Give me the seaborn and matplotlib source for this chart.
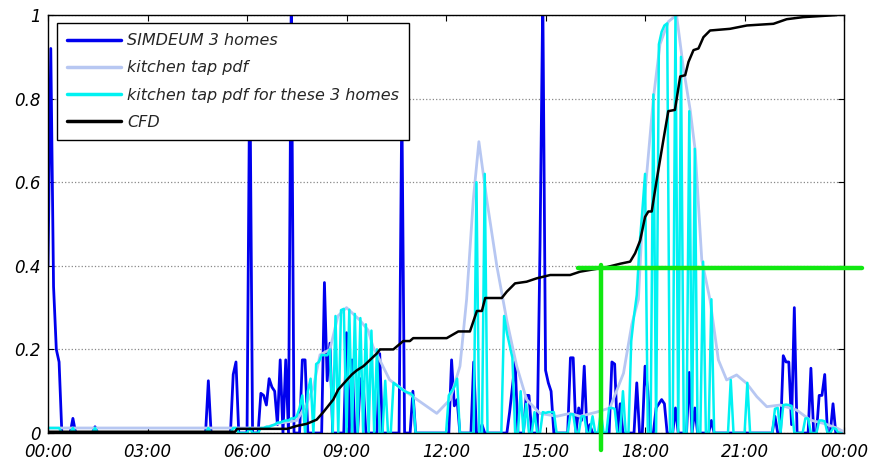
import numpy as np
import pandas as pd
import matplotlib
matplotlib.use("Agg")
import matplotlib.pyplot as plt
import seaborn as sns

# ---------------- data ----------------
# 5-minute grid (minutes after midnight); sparse non-zero readings
step_min = 5
day_minutes = 1440

simdeum_min = [0, 5, 10, 15, 20, 45, 85, 290, 335, 340, 365, 385, 390, 395, 400, 405, 410, 415,
               420, 430, 440, 460, 465, 500, 505, 510, 540, 550, 565, 570, 600, 640, 660,
               730, 735, 740, 770, 785, 835, 840, 845, 865, 870, 890, 895, 900, 905, 910,
               945, 950, 960, 965, 970, 980, 1020, 1025, 1035, 1065, 1080, 1085, 1100, 1105,
               1110, 1115, 1135, 1160, 1170, 1200, 1315, 1330, 1335, 1340, 1345, 1350, 1380,
               1395, 1400, 1405, 1420]
simdeum_val = [0.40, 0.92, 0.35, 0.20, 0.17, 0.035, 0.015, 0.125, 0.14, 0.17, 0.90, 0.095, 0.09,
               0.067, 0.13, 0.11, 0.10, 0.02, 0.175, 0.175, 1.05, 0.175, 0.175, 0.36, 0.125,
               0.215, 0.24, 0.175, 0.13, 0.12, 0.19, 0.80, 0.10, 0.175, 0.065, 0.08, 0.17,
               0.02, 0.05, 0.11, 0.17, 0.09, 0.09, 0.45, 1.05, 0.15, 0.12, 0.10, 0.18, 0.18,
               0.06, 0.03, 0.16, 0.02, 0.17, 0.165, 0.07, 0.12, 0.16, 0.10, 0.06, 0.07, 0.08,
               0.07, 0.06, 0.145, 0.06, 0.03, 0.04, 0.185, 0.17, 0.17, 0.02, 0.30, 0.155,
               0.09, 0.09, 0.14, 0.07]

homes_pdf_min = [0, 5, 10, 15, 20, 45, 85, 290, 335, 340, 365, 385, 390, 395, 400, 405, 410, 415,
                 420, 425, 430, 435, 440, 445, 450, 455, 460, 470, 475, 485, 490, 495, 500, 505,
                 510, 520, 530, 535, 545, 555, 565, 575, 585, 595, 610, 625, 630, 635, 640, 645,
                 650, 655, 660, 725, 730, 735, 740, 775, 790, 825, 830, 835, 840, 855, 865, 880,
                 895, 900, 905, 910, 915, 945, 950, 965, 970, 985, 1000, 1015, 1020, 1025, 1040,
                 1055, 1060, 1065, 1070, 1075, 1080, 1095, 1105, 1110, 1115, 1120, 1135, 1145,
                 1160, 1170, 1185, 1200, 1235, 1265, 1315, 1320, 1330, 1335, 1340, 1345, 1370,
                 1375, 1395, 1400, 1405, 1420, 1425]
homes_pdf_val = [0.012, 0.012, 0.012, 0.012, 0.012, 0.012, 0.012, 0.012, 0.012, 0.012, 0.012,
                 0.012, 0.012, 0.015, 0.015, 0.018, 0.02, 0.025, 0.025, 0.028, 0.03, 0.03, 0.035,
                 0.035, 0.04, 0.06, 0.09, 0.10, 0.13, 0.165, 0.17, 0.187, 0.186, 0.186, 0.20,
                 0.28, 0.294, 0.297, 0.295, 0.285, 0.275, 0.26, 0.245, 0.20, 0.125, 0.12, 0.115,
                 0.11, 0.105, 0.10, 0.097, 0.095, 0.09, 0.09, 0.10, 0.11, 0.13, 0.60, 0.62, 0.28,
                 0.24, 0.21, 0.18, 0.10, 0.07, 0.05, 0.05, 0.048, 0.05, 0.05, 0.05, 0.045, 0.045,
                 0.04, 0.04, 0.04, 0.05, 0.06, 0.06, 0.058, 0.10, 0.22, 0.28, 0.33, 0.45, 0.53,
                 0.62, 0.81, 0.93, 0.96, 0.975, 0.98, 1.0, 0.90, 0.77, 0.68, 0.41, 0.32, 0.127,
                 0.12, 0.058, 0.06, 0.067, 0.068, 0.067, 0.065, 0.035, 0.035, 0.03, 0.03, 0.028,
                 0.012, 0.01]

# kitchen tap pdf (smooth curve), hours / value
pdf_hour = [0, 6.5, 7.0, 7.5, 7.8, 8.0, 8.2, 8.5, 8.74, 9.0, 9.4, 9.65, 9.8, 10.0, 10.3, 10.6,
            11.0, 11.72, 12.12, 12.42, 12.62, 12.82, 12.99, 13.23, 13.53, 13.83, 14.13, 14.43,
            14.83, 15.34, 15.74, 16.04, 16.54, 16.94, 17.35, 17.6, 17.8, 17.9, 18.05, 18.25,
            18.45, 18.7, 18.95, 19.15, 19.36, 19.51, 19.71, 19.96, 20.21, 20.46, 20.76, 21.06,
            21.37, 21.67, 22.07, 22.57, 22.98, 23.38, 23.78, 23.95]
pdf_val = [0.012, 0.012, 0.024, 0.03, 0.07, 0.11, 0.187, 0.20, 0.28, 0.30, 0.27, 0.246, 0.206,
           0.175, 0.127, 0.11, 0.087, 0.047, 0.08, 0.16, 0.32, 0.557, 0.697, 0.557, 0.40, 0.27,
           0.16, 0.08, 0.047, 0.04, 0.047, 0.04, 0.05, 0.06, 0.143, 0.26, 0.32, 0.48, 0.62,
           0.80, 0.93, 0.984, 1.0, 0.876, 0.773, 0.677, 0.414, 0.318, 0.175, 0.127, 0.139,
           0.119, 0.087, 0.063, 0.067, 0.055, 0.031, 0.023, 0.012, 0.005]

# cumulative frequency distribution
cfd_hour = [0, 5.64, 5.70, 7.21, 7.50, 7.80, 8.10, 8.30, 8.60, 8.75, 9.01, 9.16, 9.31, 9.51,
            9.71, 9.91, 10.01, 10.41, 10.71, 10.91, 11.01, 12.02, 12.37, 12.72, 12.93, 13.08,
            13.18, 13.68, 13.83, 14.08, 14.43, 14.73, 15.14, 15.74, 16.04, 16.85, 17.25, 17.55,
            17.70, 17.85, 18.0, 18.10, 18.20, 18.35, 18.55, 18.70, 18.90, 19.06, 19.21, 19.31,
            19.46, 19.61, 19.76, 19.96, 20.56, 21.07, 21.87, 22.27, 22.77, 23.38, 23.78]
cfd_val = [0.003, 0.003, 0.01, 0.01, 0.017, 0.022, 0.032, 0.05, 0.08, 0.104, 0.127, 0.14, 0.15,
           0.16, 0.175, 0.19, 0.20, 0.20, 0.22, 0.22, 0.227, 0.227, 0.243, 0.243, 0.292, 0.292,
           0.323, 0.323, 0.338, 0.358, 0.362, 0.37, 0.378, 0.378, 0.386, 0.397, 0.405, 0.41,
           0.43, 0.46, 0.517, 0.53, 0.53, 0.605, 0.70, 0.77, 0.773, 0.853, 0.856, 0.888, 0.916,
           0.92, 0.947, 0.963, 0.967, 0.975, 0.979, 0.99, 0.995, 0.998, 1.0]

# green marker lines
green_h_x = [15.99, 24.53]
green_h_y = [0.394, 0.394]
green_v_x = [16.66, 16.66]
green_v_y = [-0.04, 0.402]

xtick_hours = [0, 3, 6, 9, 12, 15, 18, 21, 24]
xtick_labels = ["00:00", "03:00", "06:00", "09:00", "12:00", "15:00", "18:00", "21:00", "00:00"]
ytick_vals = [0, 0.2, 0.4, 0.6, 0.8, 1.0]
ytick_labels = ["0", "0.2", "0.4", "0.6", "0.8", "1"]

labels = ["SIMDEUM 3 homes", "kitchen tap pdf", "kitchen tap pdf for these 3 homes", "CFD"]

# ---------------- build series ----------------
grid_min = np.arange(0, day_minutes, step_min)
simdeum = np.zeros(len(grid_min))
simdeum[np.array(simdeum_min) // step_min] = simdeum_val
homes = np.zeros(len(grid_min))
homes[np.array(homes_pdf_min) // step_min] = homes_pdf_val
grid_h = grid_min / 60.0

df_grid = pd.DataFrame({"hour": grid_h, "simdeum": simdeum, "homes": homes})
df_pdf = pd.DataFrame({"hour": pdf_hour, "pdf": pdf_val})
df_cfd = pd.DataFrame({"hour": cfd_hour, "cfd": cfd_val})

# ---------------- plot ----------------
sns.set_theme(style="white")
plt.rcParams["font.family"] = ["DejaVu Sans"]
plt.rcParams["font.style"] = "italic"

fig = plt.figure(figsize=(8.7, 4.61), dpi=100)
ax = fig.add_axes([0.0552, 0.0607, 0.915, 0.9067])

sns.lineplot(data=df_grid, x="hour", y="simdeum", ax=ax, color="#0000ee", lw=2.0,
             label=labels[0], estimator=None, sort=False)
sns.lineplot(data=df_pdf, x="hour", y="pdf", ax=ax, color="#b7c7f2", lw=2.0,
             label=labels[1], estimator=None, sort=False)
sns.lineplot(data=df_grid, x="hour", y="homes", ax=ax, color="#00f2f2", lw=1.8,
             label=labels[2], estimator=None, sort=False)
sns.lineplot(data=df_cfd, x="hour", y="cfd", ax=ax, color="black", lw=1.8,
             label=labels[3], estimator=None, sort=False)

ax.plot(green_h_x, green_h_y, color="#11e811", lw=3.2, clip_on=False, zorder=6)
ax.plot(green_v_x, green_v_y, color="#11e811", lw=3.2, clip_on=False, zorder=6)

ax.set_xlim(0, 24)
ax.set_ylim(0, 1)
ax.set_xticks(xtick_hours)
ax.set_xticklabels(xtick_labels)
ax.set_yticks(ytick_vals)
ax.set_yticklabels(ytick_labels)
ax.set_xlabel("")
ax.set_ylabel("")
ax.tick_params(axis="both", direction="in", length=4, width=0.8, colors="black",
               labelsize=12, top=True, right=True, bottom=True, left=True)
ax.tick_params(axis="x", pad=7)
ax.tick_params(axis="y", pad=5)
for sp in ax.spines.values():
    sp.set_color("black")
    sp.set_linewidth(1.0)
ax.yaxis.grid(True, linestyle=":", color="#888888", lw=0.9)
ax.xaxis.grid(False)
ax.set_axisbelow(True)

leg = ax.legend(loc="upper left", bbox_to_anchor=(0.011, 0.98), borderaxespad=0,
                fontsize=11.5, frameon=True, fancybox=False, handlelength=3.4,
                handletextpad=0.4, labelspacing=0.76, borderpad=0.62)
leg.get_frame().set_edgecolor("black")
leg.get_frame().set_linewidth(1.0)
leg.get_frame().set_alpha(1.0)
for line in leg.get_lines():
    line.set_linewidth(2.5)

fig.savefig("out.png", dpi=100)
